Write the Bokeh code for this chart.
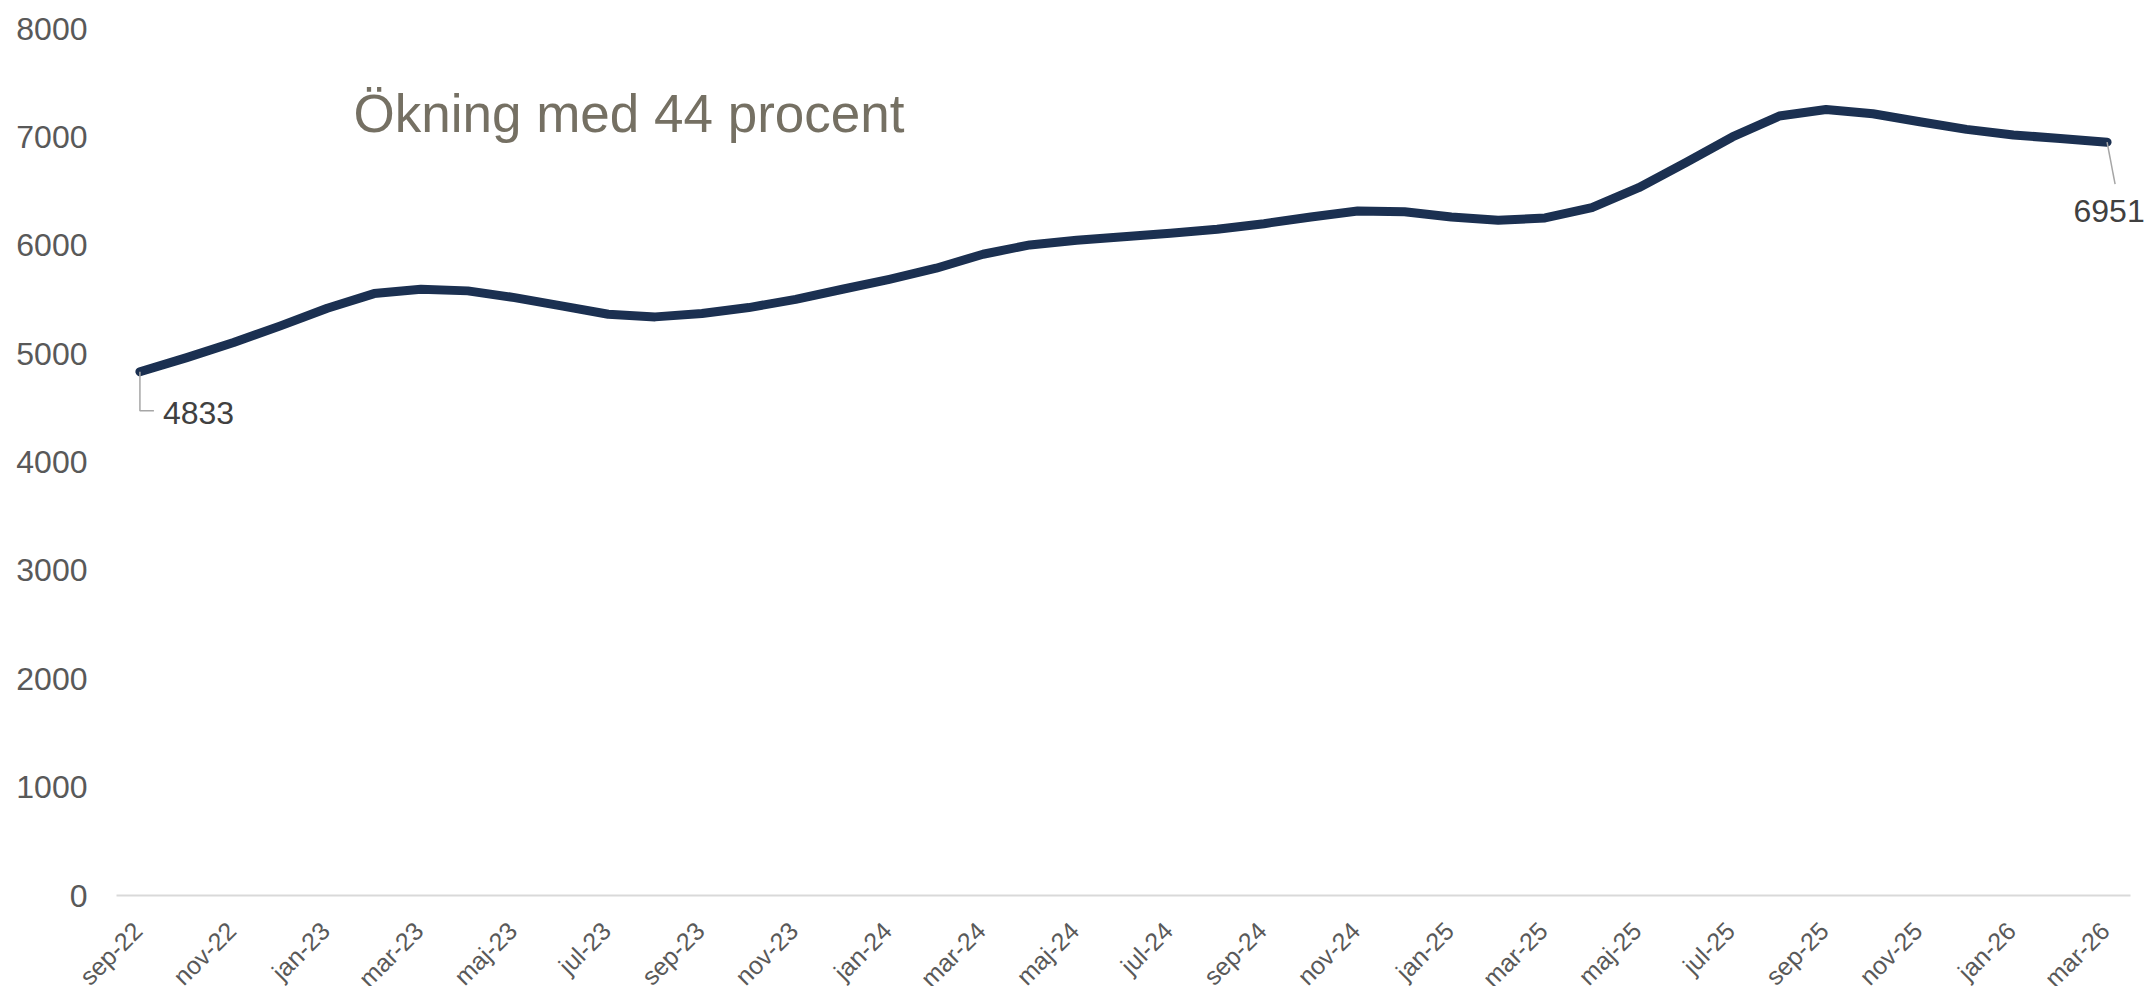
import math
from bokeh.plotting import figure
from bokeh.models import Range1d, FixedTicker, Label, ColumnDataSource
from bokeh.embed import file_html
from bokeh.resources import INLINE
from bokeh.core.properties import value

months = ["sep-22", "okt-22", "nov-22", "dec-22", "jan-23", "feb-23", "mar-23", "apr-23",
          "maj-23", "jun-23", "jul-23", "aug-23", "sep-23", "okt-23", "nov-23", "dec-23",
          "jan-24", "feb-24", "mar-24", "apr-24", "maj-24", "jun-24", "jul-24", "aug-24",
          "sep-24", "okt-24", "nov-24", "dec-24", "jan-25", "feb-25", "mar-25", "apr-25",
          "maj-25", "jun-25", "jul-25", "aug-25", "sep-25", "okt-25", "nov-25", "dec-25",
          "jan-26", "feb-26", "mar-26"]
values = [4833, 4963, 5102, 5256, 5419, 5554, 5594, 5579,
          5517, 5440, 5363, 5339, 5370, 5425, 5500, 5594,
          5686, 5788, 5917, 6003, 6046, 6079, 6110, 6147,
          6199, 6261, 6316, 6310, 6261, 6230, 6252, 6347,
          6531, 6762, 6999, 7192, 7253, 7213, 7140, 7069,
          7017, 6986, 6951]
y_ticks = [0, 1000, 2000, 3000, 4000, 5000, 6000, 7000, 8000]
annotation = "Ökning med 44 procent"

FONT = "Liberation Sans"
n = len(months)
xs = list(range(n))
YMAX = 8000

# geometry (pixels)
LEFT, TOP = 116, 28
AXIS_W, AXIS_H = 2014, 867       # category area width, 0..YMAX height
EXTRA_L, EXTRA_R, EXTRA_B = 48, 24, 91   # room inside the frame for outside texts
px_x = AXIS_W / n
px_y = AXIS_H / YMAX

x0, x1 = -0.5, n - 0.5
p = figure(frame_width=AXIS_W + EXTRA_L + EXTRA_R, frame_height=AXIS_H + EXTRA_B,
           output_backend="svg", toolbar_location=None,
           x_range=Range1d(x0 - EXTRA_L / px_x, x1 + EXTRA_R / px_x),
           y_range=Range1d(-EXTRA_B / px_y, YMAX),
           min_border_left=LEFT - EXTRA_L, min_border_right=0, min_border_top=TOP,
           min_border_bottom=0)
p.outline_line_color = None
p.background_fill_color = "white"
p.border_fill_color = "white"
p.grid.visible = False
p.xaxis.visible = False

# y axis (labels pulled into the frame so they end 29px left of the category area)
p.yaxis.ticker = FixedTicker(ticks=y_ticks)
p.yaxis.axis_line_color = None
p.yaxis.major_tick_line_color = None
p.yaxis.minor_tick_line_color = None
p.yaxis.major_tick_out = 0
p.yaxis.major_label_standoff = 29 - EXTRA_L
p.yaxis.major_label_text_font = FONT
p.yaxis.major_label_text_font_size = "32px"
p.yaxis.major_label_text_color = "#595959"

# category axis line at 0
p.line([x0, x1], [0, 0], line_color="#d9d9d9", line_width=2)

# data line
p.line(xs, values, line_color="#1b3051", line_width=9, line_cap="round", line_join="round")

# rotated month labels (every second month)
xt = xs[::2]
xlab = ColumnDataSource(dict(x=xt, y=[0] * len(xt), t=[months[i] for i in xt]))
p.text(x="x", y="y", text="t", source=xlab, angle=math.pi / 4, x_offset=-12, y_offset=21,
       text_align="right", text_baseline="top", text_font=value(FONT),
       text_font_size="25px", text_color="#595959")

# leader lines (pixel offsets converted to data units)
first, last = values[0], values[-1]
p.line([0, 0, 14 / px_x], [first, first - 39 / px_y, first - 39 / px_y],
       line_color="#a6a6a6", line_width=1.5)
p.line([n - 1, n - 1 + 8 / px_x], [last, last - 42 / px_y],
       line_color="#a6a6a6", line_width=1.5)

dl = ColumnDataSource(dict(x=[0, n - 1], y=[first, last], t=[str(first), str(last)],
                           xo=[23, 2], yo=[41, 69], al=["left", "center"]))
p.text(x="x", y="y", text="t", source=dl, x_offset="xo", y_offset="yo",
       text_align="al", text_baseline="middle", text_font=value(FONT),
       text_font_size="32px", text_color="#404040")

p.add_layout(Label(x=4.56, y=7220, text=annotation, text_font=FONT,
                   text_font_size="53px", text_color="#757063",
                   text_baseline="alphabetic"))

open("out.html", "w").write(file_html(p, INLINE))
